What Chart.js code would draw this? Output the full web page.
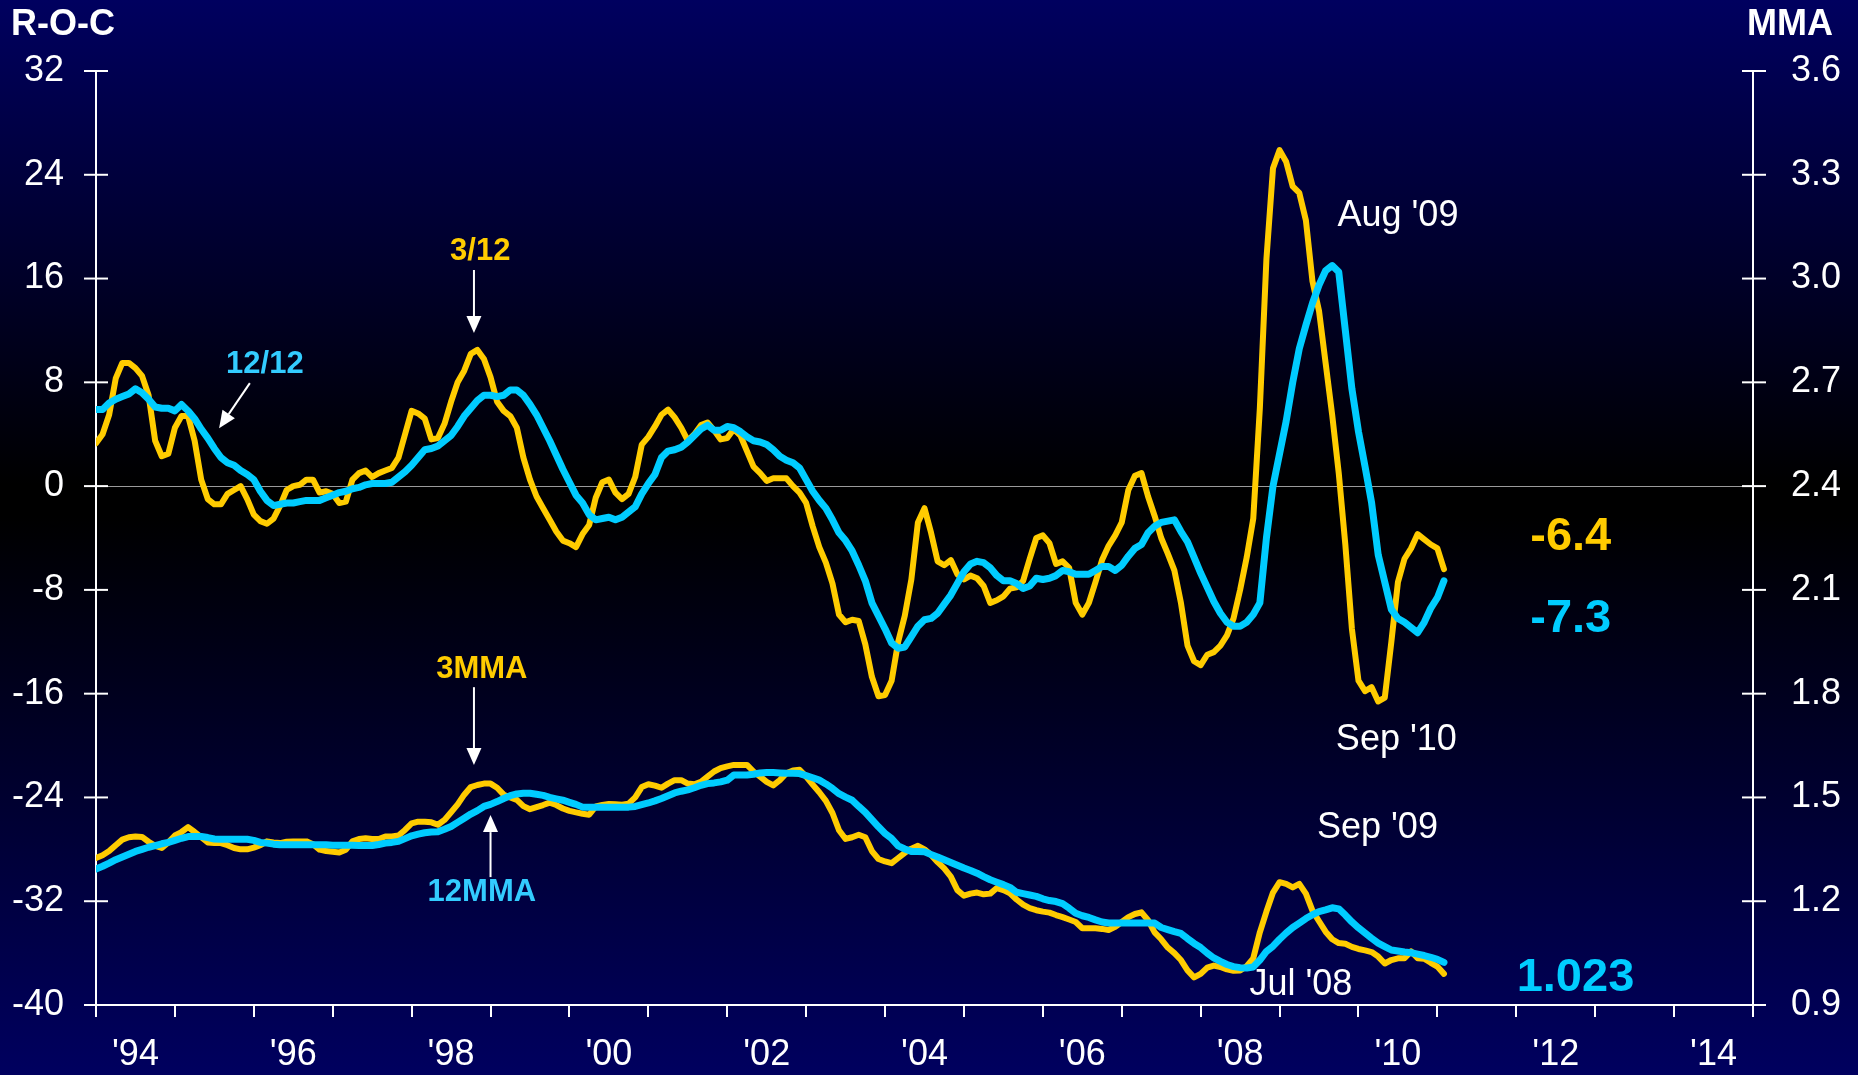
<!DOCTYPE html>
<html>
<head>
<meta charset="utf-8">
<script src="https://cdn.jsdelivr.net/npm/chart.js@4.4.0/dist/chart.umd.min.js"></script>
<style>
  html, body { margin: 0; padding: 0; }
  body {
    width: 1858px; height: 1075px; overflow: hidden;
    background: linear-gradient(to bottom, #00005f 0%, #000000 45%, #000000 48%, #00005f 100%);
  }
  canvas { display: block; }
</style>
</head>
<body>
<canvas id="roc" width="1858" height="1075"></canvas>
<script>
// monthly series, Jan 1994 onwards
const startYear = 1994;

// rate of change, left axis
const rocShort = [ // 3/12
  3.3, 4.0, 5.5, 8.3, 9.5, 9.5, 9.1, 8.5, 7.0, 3.5,
  2.3, 2.5, 4.5, 5.4, 5.4, 3.5, 0.5, -1.0, -1.4, -1.4,
  -0.6, -0.3, 0.0, -1.0, -2.2, -2.7, -2.9, -2.5, -1.5, -0.3,
  0.0, 0.1, 0.5, 0.5, -0.5, -0.4, -0.6, -1.3, -1.2, 0.5,
  1.0, 1.2, 0.7, 1.0, 1.2, 1.4, 2.2, 4.0, 5.8, 5.6,
  5.2, 3.6, 3.7, 4.8, 6.5, 8.0, 8.9, 10.2, 10.5, 9.8,
  8.4, 6.5, 5.8, 5.4, 4.5, 2.2, 0.5, -0.8, -1.7, -2.6,
  -3.5, -4.2, -4.4, -4.7, -3.7, -3.0, -0.9, 0.3, 0.5, -0.5,
  -1.0, -0.6, 0.7, 3.2, 3.8, 4.6, 5.5, 5.9, 5.3, 4.5,
  3.5, 4.0, 4.7, 4.9, 4.3, 3.6, 3.7, 4.4, 3.9, 2.7,
  1.5, 1.0, 0.4, 0.6, 0.6, 0.6, 0.0, -0.5, -1.3, -3.1,
  -4.7, -5.9, -7.5, -9.9, -10.5, -10.3, -10.4, -12.2, -14.7, -16.2,
  -16.1, -15.0, -12.0, -10.0, -7.2, -2.8, -1.7, -3.6, -5.8, -6.1,
  -5.7, -6.8, -7.2, -6.9, -7.1, -7.7, -9.0, -8.8, -8.5, -7.9,
  -7.8, -7.3, -5.6, -4.0, -3.8, -4.4, -6.0, -5.8, -6.3, -9.0,
  -9.9, -9.0, -7.4, -5.7, -4.6, -3.8, -2.8, -0.3, 0.8, 1.0,
  -0.8, -2.3, -4.0, -5.2, -6.5, -9.0, -12.3, -13.5, -13.8, -13.0,
  -12.8, -12.3, -11.5, -10.2, -8.0, -5.5, -2.5, 6.0, 17.5, 24.5,
  25.9, 25.0, 23.1, 22.6, 20.5, 15.8, 13.5, 9.5, 5.5, 1.0,
  -4.5, -11.0, -15.0, -15.8, -15.5, -16.6, -16.3, -12.0, -7.4, -5.6,
  -4.8, -3.7, -4.1, -4.5, -4.8, -6.4
];
const rocLong = [ // 12/12
  5.9, 5.9, 6.4, 6.7, 6.9, 7.1, 7.5, 7.2, 6.7, 6.1,
  6.0, 6.0, 5.8, 6.3, 5.8, 5.2, 4.4, 3.7, 2.9, 2.2,
  1.8, 1.6, 1.2, 0.9, 0.5, -0.4, -1.1, -1.5, -1.4, -1.3,
  -1.3, -1.2, -1.1, -1.1, -1.1, -0.9, -0.7, -0.5, -0.4, -0.2,
  -0.1, 0.1, 0.2, 0.2, 0.2, 0.3, 0.7, 1.1, 1.6, 2.2,
  2.8, 2.9, 3.1, 3.5, 3.9, 4.6, 5.4, 6.0, 6.6, 7.0,
  7.0, 6.9, 7.0, 7.4, 7.4, 7.0, 6.3, 5.5, 4.5, 3.5,
  2.4, 1.3, 0.3, -0.7, -1.3, -2.2, -2.6, -2.5, -2.4, -2.6,
  -2.4, -2.0, -1.6, -0.6, 0.2, 0.9, 2.2, 2.7, 2.8, 3.0,
  3.4, 3.9, 4.4, 4.7, 4.3, 4.3, 4.6, 4.5, 4.2, 3.8,
  3.5, 3.4, 3.2, 2.8, 2.3, 2.0, 1.8, 1.4, 0.5, -0.4,
  -1.1, -1.7, -2.6, -3.6, -4.2, -5.0, -6.1, -7.3, -9.0, -10.0,
  -11.0, -12.1, -12.5, -12.4, -11.6, -10.8, -10.3, -10.2, -9.8, -9.1,
  -8.4, -7.5, -6.6, -6.0, -5.8, -5.9, -6.3, -6.9, -7.3, -7.3,
  -7.5, -7.9, -7.7, -7.1, -7.2, -7.1, -6.9, -6.5, -6.6, -6.8,
  -6.8, -6.8, -6.5, -6.2, -6.2, -6.5, -6.1, -5.4, -4.8, -4.5,
  -3.6, -3.1, -2.8, -2.7, -2.6, -3.5, -4.3, -5.5, -6.7, -7.8,
  -8.9, -9.8, -10.5, -10.8, -10.8, -10.5, -9.9, -9.0, -4.0, 0.0,
  2.5, 5.0, 8.0, 10.6, 12.4, 14.1, 15.5, 16.6, 17.0, 16.5,
  12.0, 7.5, 4.2, 1.5, -1.3, -5.3, -7.4, -9.5, -10.2, -10.5,
  -10.9, -11.3, -10.5, -9.4, -8.6, -7.3
];

// moving averages, right axis
const mmaShort = [ // 3MMA
  1.325, 1.333, 1.345, 1.362, 1.378, 1.385, 1.387, 1.386, 1.372, 1.36,
  1.354, 1.37, 1.39, 1.40, 1.414, 1.40, 1.385, 1.37, 1.368, 1.368,
  1.362, 1.354, 1.35, 1.35, 1.355, 1.362, 1.373, 1.37, 1.368, 1.372,
  1.373, 1.373, 1.373, 1.365, 1.349, 1.345, 1.343, 1.341, 1.349, 1.373,
  1.38, 1.382, 1.38, 1.38, 1.387, 1.387, 1.39, 1.406, 1.425, 1.43,
  1.43, 1.428, 1.421, 1.435, 1.457, 1.48, 1.508, 1.53, 1.536, 1.54,
  1.54, 1.528, 1.508, 1.50, 1.493, 1.475, 1.466, 1.472, 1.478, 1.485,
  1.478, 1.468, 1.461, 1.457, 1.453, 1.45, 1.474, 1.478, 1.481, 1.48,
  1.479, 1.482, 1.50, 1.53, 1.538, 1.534, 1.528, 1.54, 1.55, 1.55,
  1.54, 1.538, 1.545, 1.56, 1.575, 1.585, 1.59, 1.594, 1.594, 1.594,
  1.575, 1.56, 1.545, 1.535, 1.55, 1.57, 1.578, 1.58, 1.56, 1.537,
  1.515, 1.49, 1.455, 1.405, 1.38, 1.385, 1.392, 1.385, 1.345, 1.322,
  1.315, 1.31, 1.325, 1.34, 1.352, 1.36, 1.35, 1.334, 1.313, 1.295,
  1.271, 1.232, 1.216, 1.222, 1.225, 1.22, 1.222, 1.238, 1.232, 1.223,
  1.205, 1.19, 1.18, 1.174, 1.17, 1.167, 1.16, 1.154, 1.147, 1.14,
  1.122, 1.122, 1.122, 1.12, 1.117, 1.126, 1.14, 1.154, 1.163, 1.168,
  1.145, 1.11, 1.09, 1.066, 1.05, 1.03, 1.0, 0.98, 0.99, 1.008,
  1.014, 1.01, 1.003, 0.999, 1.0, 1.012, 1.035, 1.11, 1.17, 1.225,
  1.255, 1.25, 1.24, 1.25, 1.222, 1.173, 1.142, 1.112, 1.09, 1.079,
  1.077, 1.068, 1.062, 1.058, 1.053, 1.04, 1.02, 1.03, 1.035, 1.035,
  1.055, 1.035, 1.034, 1.022, 1.011, 0.99
];
const mmaLong = [ // 12MMA
  1.293, 1.301, 1.31, 1.32, 1.328, 1.336, 1.344, 1.35, 1.356, 1.361,
  1.366, 1.37, 1.376, 1.382, 1.387, 1.387, 1.387, 1.384, 1.38, 1.379,
  1.379, 1.379, 1.379, 1.379, 1.376, 1.37, 1.368, 1.365, 1.363, 1.363,
  1.363, 1.363, 1.363, 1.363, 1.363, 1.363, 1.362, 1.362, 1.362, 1.362,
  1.361, 1.361, 1.361, 1.364, 1.368, 1.370, 1.373, 1.381, 1.389, 1.394,
  1.398, 1.40, 1.401, 1.408, 1.416, 1.428, 1.44, 1.452, 1.462, 1.474,
  1.48, 1.488, 1.497, 1.505, 1.51, 1.512, 1.512, 1.509, 1.506, 1.50,
  1.496, 1.492, 1.486, 1.48, 1.472, 1.472, 1.472, 1.472, 1.472, 1.472,
  1.472, 1.472, 1.474, 1.479, 1.484, 1.49, 1.497, 1.505, 1.513, 1.518,
  1.522, 1.528, 1.535, 1.54, 1.542, 1.545, 1.55, 1.565, 1.565, 1.565,
  1.567, 1.571, 1.572, 1.572, 1.571, 1.57, 1.57, 1.569, 1.563, 1.557,
  1.55, 1.539, 1.526, 1.511, 1.501, 1.492, 1.474, 1.457, 1.436, 1.415,
  1.396, 1.381, 1.36, 1.351, 1.344, 1.344, 1.343, 1.335, 1.328, 1.32,
  1.312, 1.304, 1.296, 1.289, 1.281, 1.271, 1.262, 1.255, 1.248, 1.24,
  1.226, 1.222, 1.218, 1.214, 1.207, 1.202, 1.199, 1.193, 1.18, 1.165,
  1.158, 1.153, 1.146, 1.14, 1.137, 1.137, 1.137, 1.137, 1.137, 1.137,
  1.137, 1.137, 1.124, 1.118, 1.112, 1.107, 1.092, 1.078, 1.066, 1.05,
  1.036, 1.026, 1.017, 1.011, 1.008, 1.007, 1.01, 1.03, 1.055, 1.07,
  1.09, 1.108, 1.124, 1.137, 1.15, 1.161, 1.17, 1.175, 1.181, 1.178,
  1.16, 1.14, 1.123, 1.108, 1.093, 1.079, 1.069, 1.059, 1.056, 1.053,
  1.051, 1.047, 1.043, 1.038, 1.032, 1.023
];

const yearLabels = ["'94", "'96", "'98", "'00", "'02", "'04", "'06", "'08", "'10", "'12", "'14"];

const GOLD = '#ffcc00';
const CYAN = '#00ccff';
const SKY = '#33ccff';
const WHITE = '#ffffff';
const FAMILY = "'Liberation Sans', Arial, sans-serif";

// month index -> fractional year on the x scale
const monthX = rocShort.map((_, i) => startYear + i / 12);
const xy = arr => arr.map((v, i) => ({ x: monthX[i], y: v }));

// labels placed in data units (year, left-axis value)
const notes = [
  { text: '3/12', x: 1998.87, v: 18.1, color: GOLD, font: 'bold 31px ' + FAMILY },
  { text: '12/12', x: 1996.14, v: 9.4, color: SKY, font: 'bold 31px ' + FAMILY },
  { text: '3MMA', x: 1998.89, v: -14.1, color: GOLD, font: 'bold 31px ' + FAMILY },
  { text: '12MMA', x: 1998.89, v: -31.3, color: SKY, font: 'bold 31px ' + FAMILY },
  { text: "Aug '09", x: 2010.50, v: 20.8, color: WHITE, font: '36px ' + FAMILY },
  { text: "Sep '10", x: 2010.48, v: -19.6, color: WHITE, font: '36px ' + FAMILY },
  { text: "Sep '09", x: 2010.24, v: -26.4, color: WHITE, font: '36px ' + FAMILY },
  { text: "Jul '08", x: 2009.27, v: -38.5, color: WHITE, font: '36px ' + FAMILY },
  { text: '-6.4', x: 2012.69, v: -3.9, color: GOLD, font: 'bold 47px ' + FAMILY },
  { text: '-7.3', x: 2012.69, v: -10.25, color: CYAN, font: 'bold 47px ' + FAMILY },
  { text: '1.023', x: 2012.75, v: -37.9, color: CYAN, font: 'bold 47px ' + FAMILY }
];
const arrows = [
  { from: [1998.79, 16.66], to: [1998.79, 11.8] },
  { from: [1995.95, 7.94], to: [1995.56, 4.47] },
  { from: [1998.79, -15.5], to: [1998.79, -21.5] },
  { from: [1999.0, -30.14], to: [1999.0, -25.36] }
];

const decor = {
  id: 'decor',
  afterDraw(chart) {
    const { ctx, scales: { x, y, y2 } } = chart;
    const seg = (x1, y1, x2, y2_) => { ctx.beginPath(); ctx.moveTo(x1, y1); ctx.lineTo(x2, y2_); ctx.stroke(); };
    ctx.save();
    ctx.strokeStyle = WHITE;
    ctx.fillStyle = WHITE;
    ctx.lineWidth = 2;

    // tick marks crossing both vertical axes
    y.ticks.forEach(t => { const py = y.getPixelForValue(t.value); seg(x.left - 12, py, x.left + 12, py); });
    y2.ticks.forEach(t => { const py = y2.getPixelForValue(t.value); seg(x.right - 11, py, x.right + 13, py); });
    // yearly ticks below the x axis
    for (let yr = 1994; yr <= 2015; yr++) {
      const px = Math.round(x.getPixelForValue(yr));
      seg(px, y.bottom, px, y.bottom + 12);
    }

    // arrows
    arrows.forEach(a => {
      const x1 = x.getPixelForValue(a.from[0]), y1 = y.getPixelForValue(a.from[1]);
      const x2 = x.getPixelForValue(a.to[0]), y2p = y.getPixelForValue(a.to[1]);
      const ang = Math.atan2(y2p - y1, x2 - x1);
      const len = 17, half = 7.5;
      const bx = x2 - len * Math.cos(ang), by = y2p - len * Math.sin(ang);
      seg(x1, y1, bx, by);
      ctx.beginPath();
      ctx.moveTo(x2, y2p);
      ctx.lineTo(bx + half * Math.sin(ang), by - half * Math.cos(ang));
      ctx.lineTo(bx - half * Math.sin(ang), by + half * Math.cos(ang));
      ctx.closePath();
      ctx.fill();
    });

    // text labels
    ctx.textAlign = 'center';
    ctx.textBaseline = 'middle';
    notes.forEach(n => {
      ctx.font = n.font;
      ctx.fillStyle = n.color;
      ctx.fillText(n.text, x.getPixelForValue(n.x), y.getPixelForValue(n.v));
    });

    // axis titles
    ctx.font = 'bold 36px ' + FAMILY;
    ctx.fillStyle = WHITE;
    ctx.fillText('R-O-C', 63, 25);
    ctx.fillText('MMA', 1790, 25);
    ctx.restore();
  }
};

const tickFont = { family: FAMILY, size: 36 };

new Chart(document.getElementById('roc').getContext('2d'), {
  type: 'line',
  plugins: [decor],
  data: {
    datasets: [
      { label: '12/12', data: xy(rocLong), yAxisID: 'y', borderColor: CYAN, borderWidth: 7, order: 1 },
      { label: '3/12', data: xy(rocShort), yAxisID: 'y', borderColor: GOLD, borderWidth: 6, order: 2 },
      { label: '12MMA', data: xy(mmaLong), yAxisID: 'y2', borderColor: CYAN, borderWidth: 7, order: 1 },
      { label: '3MMA', data: xy(mmaShort), yAxisID: 'y2', borderColor: GOLD, borderWidth: 6, order: 2 }
    ]
  },
  options: {
    responsive: false,
    animation: false,
    layout: { padding: { top: 71, left: 0, right: 0, bottom: 0 } },
    elements: {
      point: { radius: 0 },
      line: { tension: 0, borderJoinStyle: 'round', borderCapStyle: 'round', fill: false }
    },
    plugins: { legend: { display: false }, tooltip: { enabled: false } },
    scales: {
      x: {
        type: 'linear', min: 1994, max: 2015,
        ticks: {
          stepSize: 0.5, autoSkip: false, maxRotation: 0, minRotation: 0,
          color: WHITE, font: tickFont, padding: 20,
          callback: v => {
            const yr = Math.floor(v);
            return (v - yr === 0.5 && yr % 2 === 0) ? yearLabels[(yr - 1994) / 2] : '';
          }
        },
        grid: { display: false },
        border: { color: WHITE, width: 2 },
        afterFit: s => { s.height = 70; }
      },
      y: {
        position: 'left', min: -40, max: 32,
        ticks: { stepSize: 8, color: WHITE, font: tickFont, padding: 32 },
        grid: {
          drawTicks: false, lineWidth: 1,
          color: c => (c.tick && c.tick.value === 0) ? '#9a9a9a' : 'rgba(0,0,0,0)'
        },
        border: { color: WHITE, width: 2 },
        afterFit: s => { s.width = 96; }
      },
      y2: {
        position: 'right', min: 0.9, max: 3.6,
        ticks: { stepSize: 0.3, color: WHITE, font: tickFont, padding: 30, callback: v => v.toFixed(1) },
        grid: { display: false },
        border: { color: WHITE, width: 2 },
        afterFit: s => { s.width = 105; }
      }
    }
  }
});
</script>
</body>
</html>
